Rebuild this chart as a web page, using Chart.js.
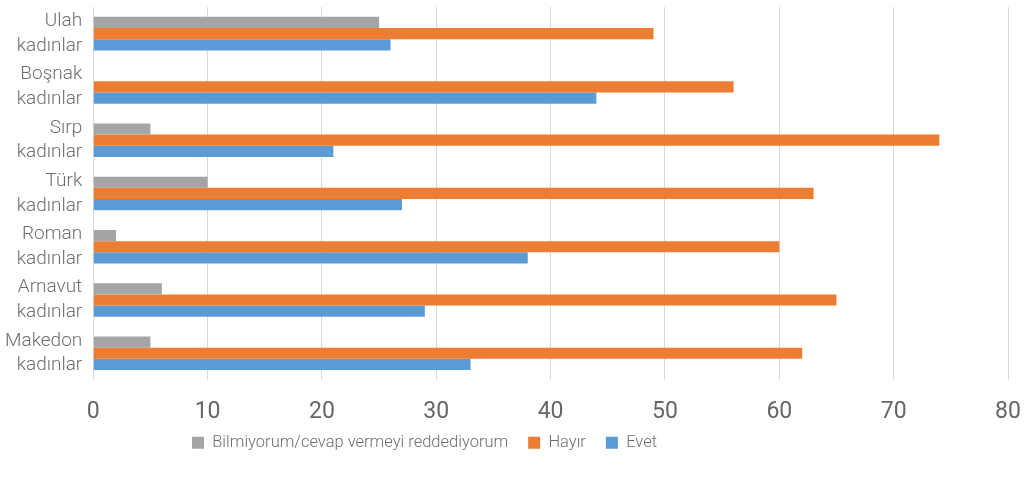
<!DOCTYPE html>
<html>
<head>
<meta charset="utf-8">
<script src="https://cdn.jsdelivr.net/npm/chart.js@4/dist/chart.umd.min.js"></script>
<style>
  html, body { margin: 0; padding: 0; background: #fff; }
  .wrapper { width: 1031px; height: 483px; }
</style>
</head>
<body>
<div class="wrapper"><canvas id="chart"></canvas></div>
<script>
// kategoriler (yukarıdan aşağıya)
const categories = [
    ['Ulah', 'kadınlar'],
    ['Boşnak', 'kadınlar'],
    ['Sırp', 'kadınlar'],
    ['Türk', 'kadınlar'],
    ['Roman', 'kadınlar'],
    ['Arnavut', 'kadınlar'],
    ['Makedon', 'kadınlar']
];

const bilmiyorum = [25, 0, 5, 10, 2, 6, 5];
const hayir = [49, 56, 74, 63, 60, 65, 62];
const evet = [26, 44, 21, 27, 38, 29, 33];

const xTicks = [0, 10, 20, 30, 40, 50, 60, 70, 80];

const fontFamily = 'Roboto, "Open Sans", sans-serif';
const textColor = '#6e6e6e';

const data = {
    labels: categories,
    datasets: [
        {
            label: 'Bilmiyorum/cevap vermeyi reddediyorum',
            backgroundColor: '#A5A5A5',
            data: bilmiyorum
        },
        {
            label: 'Hayır',
            backgroundColor: '#ED7D31',
            data: hayir
        },
        {
            label: 'Evet',
            backgroundColor: '#5B9BD5',
            data: evet
        }
    ]
};

// la légende de l'original n'est pas centrée (commence vers x=172) et elle est un peu remontée
const legendShift = {
    id: 'legendShift',
    afterLayout(chart) {
        chart.legend.left = 172;
        chart.legend.top -= 8;
    }
};

const config = {
    type: 'bar',
    data: data,
    plugins: [legendShift],
    options: {
        indexAxis: 'y',
        responsive: true,
        maintainAspectRatio: false,
        animation: false,
        layout: {
            padding: { left: 4, right: 23, top: 7, bottom: 14 }
        },
        datasets: {
            bar: {
                barPercentage: 1,
                categoryPercentage: 0.63
            }
        },
        scales: {
            x: {
                min: xTicks[0],
                max: xTicks[xTicks.length - 1],
                afterFit: scale => {
                    scale.paddingRight = 0;
                    scale.height -= 23;
                },
                ticks: {
                    stepSize: 10,
                    color: '#666',
                    padding: 19,
                    font: { family: fontFamily, size: 23, weight: 400 }
                },
                grid: {
                    color: '#d9d9d9',
                    drawTicks: false
                },
                border: { display: false }
            },
            y: {
                // les labels sur 2 lignes ajoutent du padding en haut/bas -> on l'enlève
                afterFit: scale => {
                    scale.paddingTop = 0;
                    scale.paddingBottom = 0;
                    scale.width -= 10;
                },
                ticks: {
                    autoSkip: false,
                    color: textColor,
                    padding: 11,
                    font: { family: fontFamily, size: 19, weight: 300, lineHeight: 1.3 }
                },
                grid: { display: false, drawTicks: false },
                border: { color: '#d9d9d9' }
            }
        },
        plugins: {
            legend: {
                position: 'bottom',
                align: 'start',
                labels: {
                    color: textColor,
                    boxWidth: 12,
                    boxHeight: 12,
                    padding: 20,
                    font: { family: fontFamily, size: 16.5, weight: 300 }
                }
            },
            tooltip: { enabled: false }
        }
    }
};

const chart = new Chart(document.querySelector('#chart'), config);
</script>
</body>
</html>
